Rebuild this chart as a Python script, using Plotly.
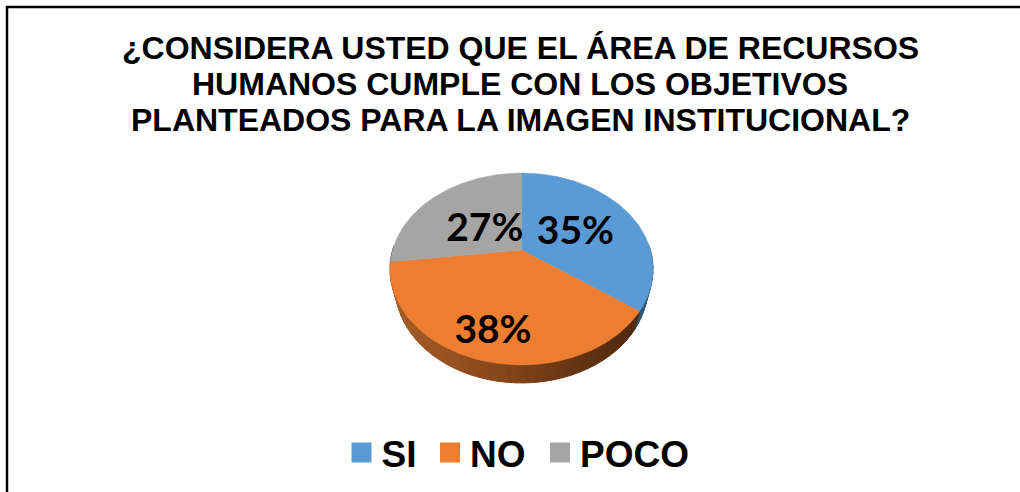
import numpy as np
import plotly.graph_objects as go

title_lines = ['¿CONSIDERA USTED QUE EL ÁREA DE RECURSOS',
               'HUMANOS CUMPLE CON LOS OBJETIVOS',
               'PLANTEADOS PARA LA IMAGEN INSTITUCIONAL?']
categories = ['SI', 'NO', 'POCO']
values = [35, 38, 27]
colors = ['#5B9BD5', '#ED7D31', '#A5A5A5']
wall_dark = ['#2F5677', None, '#5A5A5A']

# perspective of the tilted disc, axes are in screen pixels round the apex
A, B, K = 128.9, 92.2, 0.198
DEPTH = 18
WALL_SCALE = 0.96
label_r = [0.49, 0.76, 0.40]
LABEL_DROP = 4
legend_x = [341.5, 430, 540]
LEGEND_Y = 8
title_y = [48, 84, 120]


def disc(theta, r=1.0):
    u, v = r * np.sin(theta), r * np.cos(theta)
    d = 1 + K * v
    return A * u / d, B * v / d


fig = go.Figure()

edges = np.cumsum([0] + values) / sum(values) * 2 * np.pi


# side wall, drawn in short pieces for the shading
def wall_colour(x):
    f = (x + 131) / 262
    stops = [(0, (165, 92, 40)), (0.3, (145, 78, 30)), (0.55, (120, 62, 22)),
             (0.8, (92, 48, 17)), (1, (78, 40, 14))]
    for (a, ca), (b, cb) in zip(stops, stops[1:]):
        if f <= b:
            t = (f - a) / (b - a)
            c = [int(p + (q - p) * t) for p, q in zip(ca, cb)]
            return 'rgb(%d,%d,%d)' % tuple(c)
    return 'rgb(78,40,14)'


for i in range(3):
    steps = np.linspace(edges[i], edges[i + 1], 40)
    for t0, t1 in zip(steps[:-1], steps[1:]):
        xs, ys = disc(np.array([t0, t1]))
        if ys.mean() > 5:
            continue
        col = wall_colour(xs.mean()) if i == 1 else wall_dark[i]
        fig.add_trace(go.Scatter(
            x=[xs[0], xs[1], xs[1] * WALL_SCALE, xs[0] * WALL_SCALE, xs[0]],
            y=[ys[0], ys[1], ys[1] - DEPTH, ys[0] - DEPTH, ys[0]],
            mode='lines', fill='toself', fillcolor=col,
            line=dict(color=col, width=1), showlegend=False, hoverinfo='skip'))

# top face
for i in range(3):
    th = np.linspace(edges[i], edges[i + 1], 120)
    xs, ys = disc(th)
    fig.add_trace(go.Scatter(
        x=np.r_[0, xs, 0], y=np.r_[0, ys, 0],
        mode='lines', fill='toself', fillcolor=colors[i],
        line=dict(color=colors[i], width=0.5), showlegend=False,
        hoverinfo='skip'))

# percentage labels
mids = (edges[:-1] + edges[1:]) / 2
lx, ly = zip(*[disc(m, r) for m, r in zip(mids, label_r)])
fig.add_trace(go.Scatter(
    x=lx, y=np.array(ly) - LABEL_DROP, mode='text',
    text=['%d%%' % v for v in values],
    textfont=dict(family='Lato', size=39, color='black', weight=700),
    showlegend=False, hoverinfo='skip'))

# legend entries, one legend each so the gaps can be set
legend_font = dict(family='Liberation Sans', size=37, color='black', weight=700)
legends = {}
for i, (name, col) in enumerate(zip(categories, colors)):
    key = 'legend' if i == 0 else 'legend%d' % (i + 1)
    fig.add_trace(go.Scatter(
        x=[None], y=[None], mode='markers', name=name, legend=key,
        marker=dict(symbol='square', size=16, color=col,
                    line=dict(color=col, width=4))))
    legends[key] = dict(x=legend_x[i] / 1020, xanchor='left', y=LEGEND_Y / 492,
                        yanchor='bottom', itemwidth=30, itemsizing='trace',
                        bgcolor='rgba(0,0,0,0)', font=legend_font)

fig.update_layout(
    width=1020, height=492,
    margin=dict(l=0, r=0, t=0, b=0),
    paper_bgcolor='white', plot_bgcolor='white',
    xaxis=dict(range=[-521.5, 498.5], visible=False, fixedrange=True),
    yaxis=dict(range=[-242, 250], visible=False, fixedrange=True),
    annotations=[dict(text=line, xref='paper', yref='paper', x=520 / 1020,
                      y=1 - py / 492, xanchor='center', yanchor='middle',
                      showarrow=False,
                      font=dict(family='Liberation Sans', size=32,
                                color='black', weight=700))
                 for line, py in zip(title_lines, title_y)],
    shapes=[dict(type='rect', xref='paper', yref='paper',
                 x0=7 / 1020, x1=1.02, y0=-0.02, y1=1 - 7 / 492,
                 line=dict(color='black', width=2.5))],
    **legends,
)

fig.write_html("out.html", config=dict(displayModeBar=False),
               post_script="document.body.style.margin='0';")
